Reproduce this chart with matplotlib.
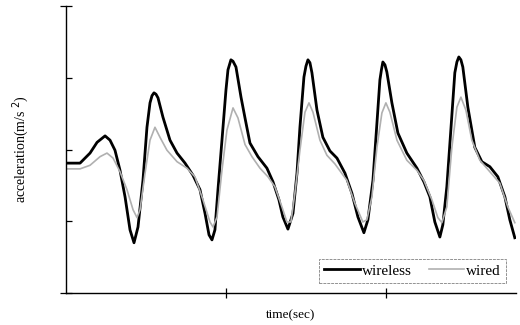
import numpy as np
import matplotlib
matplotlib.use("Agg")
import matplotlib.pyplot as plt

plt.rcParams["font.family"] = ["Liberation Serif", "DejaVu Serif"]

# wireless accelerometer
t_wireless = [0, 0.0875, 0.15, 0.194, 0.244, 0.275, 0.306, 0.3375, 0.369, 0.4,
              0.425, 0.45, 0.481, 0.506, 0.525, 0.5375, 0.55, 0.5625, 0.575, 0.606,
              0.65, 0.694, 0.744, 0.794, 0.8375, 0.869, 0.894, 0.9125, 0.931, 0.95,
              0.975, 1.0, 1.0125, 1.031, 1.044, 1.0625, 1.094, 1.119, 1.15, 1.2,
              1.256, 1.294, 1.331, 1.356, 1.3875, 1.419, 1.444, 1.4625, 1.4875, 1.5,
              1.5125, 1.525, 1.5375, 1.569, 1.606, 1.65, 1.694, 1.744, 1.7875, 1.825,
              1.8625, 1.8875, 1.919, 1.944, 1.9625, 1.972, 1.981, 1.994, 2.006, 2.0375,
              2.075, 2.131, 2.194, 2.2375, 2.275, 2.306, 2.3375, 2.356, 2.381, 2.406,
              2.431, 2.444, 2.456, 2.469, 2.481, 2.5125, 2.556, 2.6, 2.65, 2.7,
              2.744, 2.775, 2.806]
acc_wireless = [1.81, 1.81, 1.95, 2.10, 2.19, 2.13, 1.99, 1.71, 1.34, 0.88,
                0.70, 0.92, 1.57, 2.31, 2.65, 2.75, 2.79, 2.77, 2.72, 2.45,
                2.13, 1.95, 1.81, 1.64, 1.44, 1.11, 0.81, 0.74, 0.88, 1.44,
                2.13, 2.83, 3.11, 3.25, 3.23, 3.15, 2.73, 2.44, 2.09, 1.90,
                1.74, 1.55, 1.30, 1.06, 0.89, 1.11, 1.67, 2.31, 3.01, 3.16,
                3.25, 3.21, 3.07, 2.55, 2.17, 1.98, 1.88, 1.67, 1.39, 1.06,
                0.84, 1.02, 1.57, 2.37, 2.97, 3.11, 3.22, 3.18, 3.08, 2.65,
                2.23, 1.95, 1.74, 1.55, 1.34, 0.99, 0.78, 0.95, 1.48, 2.27,
                3.07, 3.22, 3.29, 3.25, 3.15, 2.59, 2.03, 1.83, 1.76, 1.62,
                1.34, 1.02, 0.77]

# wired accelerometer
t_wired = [0, 0.0875, 0.15, 0.2125, 0.256, 0.294, 0.3375, 0.381, 0.419, 0.444,
           0.4625, 0.494, 0.525, 0.556, 0.5875, 0.631, 0.694, 0.756, 0.806, 0.856,
           0.9, 0.919, 0.944, 0.975, 1.006, 1.044, 1.075, 1.119, 1.1625, 1.2125,
           1.2625, 1.306, 1.35, 1.381, 1.406, 1.431, 1.4625, 1.494, 1.519, 1.544,
           1.5875, 1.631, 1.681, 1.756, 1.806, 1.856, 1.881, 1.9125, 1.944, 1.975,
           2.0, 2.025, 2.069, 2.131, 2.194, 2.2375, 2.2875, 2.325, 2.35, 2.381,
           2.4125, 2.444, 2.469, 2.5, 2.5375, 2.5875, 2.65, 2.7125, 2.7625, 2.806]
acc_wired = [1.73, 1.73, 1.78, 1.90, 1.95, 1.88, 1.69, 1.44, 1.16, 1.05,
             1.16, 1.67, 2.13, 2.31, 2.17, 1.99, 1.83, 1.74, 1.62, 1.30,
             0.99, 0.92, 1.06, 1.71, 2.27, 2.58, 2.44, 2.07, 1.90, 1.74,
             1.62, 1.48, 1.20, 0.99, 0.99, 1.39, 1.99, 2.52, 2.65, 2.52,
             2.13, 1.92, 1.80, 1.57, 1.25, 0.99, 1.02, 1.34, 2.03, 2.51,
             2.65, 2.52, 2.13, 1.85, 1.71, 1.57, 1.30, 1.05, 0.98, 1.20,
             2.03, 2.59, 2.73, 2.55, 2.13, 1.85, 1.69, 1.53, 1.20, 0.98]

fig = plt.figure(figsize=(5.2, 3.25), dpi=100)
ax = fig.add_axes([0.127, 0.0985, 0.865, 0.883])

ax.plot(t_wireless, acc_wireless, color="black", lw=2.0, label="wireless",
        solid_joinstyle="round")
ax.plot(t_wired, acc_wired, color="#b0b0b0", lw=1.2, label="wired",
        solid_joinstyle="round")

ax.set_xlim(0, 2.8125)
ax.set_ylim(0, 4)
ax.spines["top"].set_visible(False)
ax.spines["right"].set_visible(False)
ax.spines["left"].set_linewidth(1.0)
ax.spines["bottom"].set_linewidth(1.0)

ax.set_xticks([1, 2])
ax.set_xticklabels([])
ax.tick_params(axis="x", direction="inout", length=7, width=0.9)
ax.set_yticks([1, 2, 3])
ax.set_yticklabels([])
ax.set_yticks([0, 4], minor=True)
ax.tick_params(axis="y", which="major", direction="in", length=4.5, width=0.9)
ax.tick_params(axis="y", which="minor", direction="inout", length=8, width=0.9)

ax.set_xlabel("time(sec)", fontsize=9.5, labelpad=5)
ax.set_ylabel("acceleration(m/s $^2$)", fontsize=10, labelpad=18)

leg = ax.legend(loc="lower right", bbox_to_anchor=(0.978, 0.035), ncol=2,
                fontsize=11, frameon=True, fancybox=False, borderaxespad=0,
                handlelength=2.3, handletextpad=0.15, columnspacing=1.1,
                borderpad=0.35)
leg.get_frame().set_edgecolor("#777777")
leg.get_frame().set_linewidth(0.7)
leg.get_frame().set_linestyle((0, (3, 1)))

fig.savefig("out.png", dpi=100)
